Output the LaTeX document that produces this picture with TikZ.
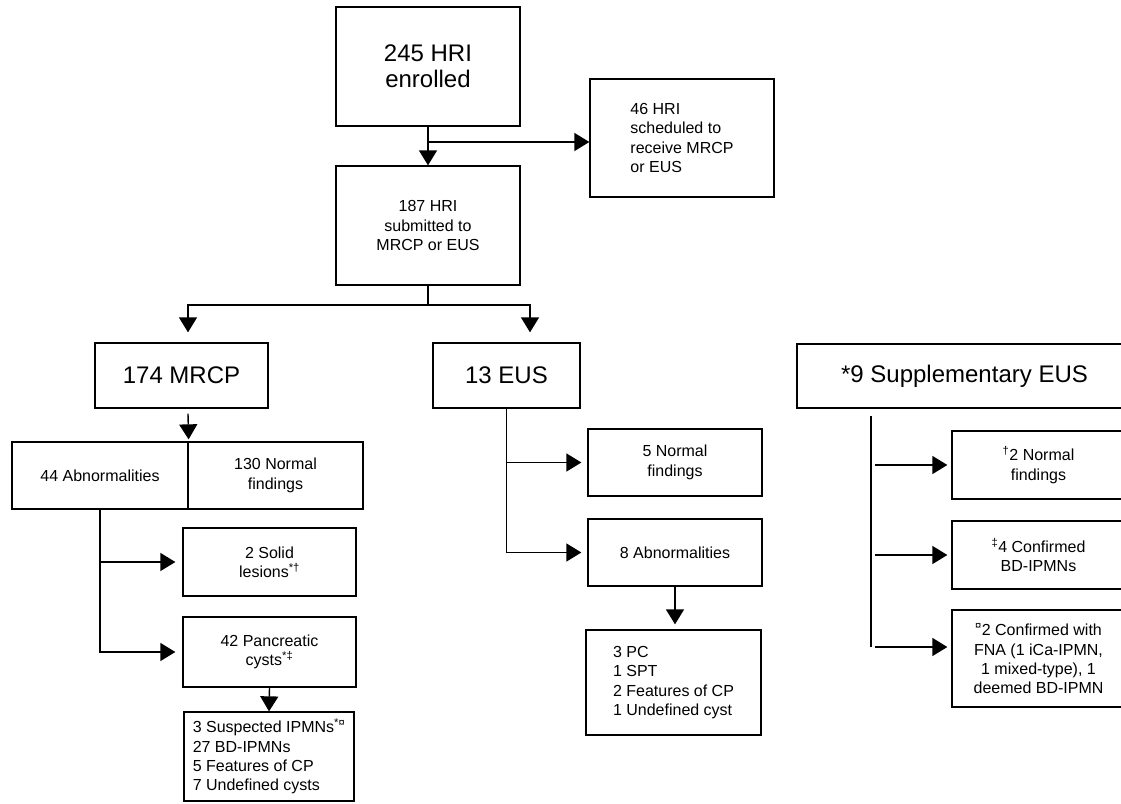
\documentclass[tikz,border=0pt]{standalone}
\usepackage{fontspec}
\setmainfont{Liberation Sans}
\usetikzlibrary{arrows.meta}

\begin{document}
\begin{tikzpicture}[x=1pt, y=-1pt,
    blk/.style={draw, line width=1.3pt, align=center, inner sep=2pt,
                font=\fontsize{16}{19.3}\selectfont},
    blkbig/.style={blk, font=\fontsize{24}{26}\selectfont},
    conn/.style={line width=1.4pt},
    connarr/.style={conn, -{Triangle[length=15pt,width=18pt]}}]

    \clip (0,0) rectangle (1121,803);

    % top of the chart
    \node[blkbig, minimum width=184pt, minimum height=119pt] (enrolled) at (428,66.5) {245 HRI\\enrolled};
    \node[blk, minimum width=184pt, minimum height=119pt] (submitted) at (428,225.5) {187 HRI\\submitted to\\MRCP or EUS};
    \node[blk, align=left, minimum width=184pt, minimum height=118pt] (sched) at (682,138) {46 HRI\\scheduled to\\receive MRCP\\or EUS};

    % MRCP branch
    \node[blkbig, minimum width=173pt, minimum height=65pt] (mrcp) at (181.5,375.5) {174 MRCP};
    \node[blk, minimum width=176pt, minimum height=67pt] (abn) at (100,475.5) {44 Abnormalities};
    \node[blk, minimum width=175pt, minimum height=67pt] (normal) at (275.5,475.5) {130 Normal\\findings};
    \node[blk, minimum width=173pt, minimum height=68pt] (solid) at (269.5,562) {2 Solid\\lesions\textsuperscript{*†}};
    \node[blk, minimum width=173pt, minimum height=70pt] (cysts) at (269.5,652) {42 Pancreatic\\cysts\textsuperscript{*‡}};
    \node[blk, align=left, minimum width=170pt, minimum height=89pt] (mlist) at (269,756.5) {3 Suspected IPMNs\textsuperscript{*¤}\\27 BD-IPMNs\\5 Features of CP\\7 Undefined cysts};

    % EUS branch
    \node[blkbig, minimum width=147pt, minimum height=65pt] (eus) at (506.5,375.5) {13 EUS};
    \node[blk, minimum width=174pt, minimum height=67pt] (enormal) at (675,462.5) {5 Normal\\findings};
    \node[blk, minimum width=174pt, minimum height=67pt] (eabn) at (675,552.5) {8 Abnormalities};
    \node[blk, align=left, minimum width=175pt, minimum height=105pt] (elist) at (673.5,682.5) {3 PC\\1 SPT\\2 Features of CP\\1 Undefined cyst};

    % supplementary EUS
    \node[blkbig, minimum width=335pt, minimum height=64pt] (supp) at (964.5,376) {*9 Supplementary EUS};
    \node[blk, minimum width=173pt, minimum height=68pt] (snormal) at (1038.5,465) {\textsuperscript{†}2 Normal\\findings};
    \node[blk, minimum width=173pt, minimum height=68pt] (sconf) at (1038.5,555) {\textsuperscript{‡}4 Confirmed\\BD-IPMNs};
    \node[blk, minimum width=173pt, minimum height=97pt] (sfna) at (1038.5,658.5) {\textsuperscript{¤}2 Confirmed with\\FNA (1 iCa-IPMN,\\1 mixed-type), 1\\deemed BD-IPMN};

    \coordinate (fork) at (428,142);
    \coordinate (split) at (428,305);
    \coordinate (stop) at (871,416);
    \coordinate (sbot) at (871,647);
    \coordinate (sx) at (875,416);

    \draw[connarr] (enrolled.south) -- (submitted.north);
    \draw[connarr] (fork) -- (fork -| sched.west);
    \draw[conn] (submitted.south) -- (split);
    \draw[connarr, shorten >=10pt] (split) -| ([xshift=6.5pt]mrcp.north);
    \draw[connarr, shorten >=10pt] (split) -| ([xshift=23.5pt]eus.north);

    \draw[connarr, shorten >=2pt] ([xshift=6.5pt,yshift=-5pt]mrcp.south) -- (abn.north east);
    \draw[connarr, shorten >=7pt] (abn.south) |- (solid.west);
    \draw[connarr, shorten >=7pt] (abn.south) |- (cysts.west);
    \draw[connarr] (cysts.south) -- (mlist.north);

    \draw[connarr, shorten >=6pt] (eus.south) |- (enormal.west);
    \draw[connarr, shorten >=6pt] (eus.south) |- (eabn.west);
    \draw[connarr, shorten >=5pt] (eabn.south) -- (eabn.south |- elist.north);

    \draw[conn] (stop) -- (sbot);
    \draw[connarr, shorten >=4pt] (sx |- snormal.west) -- (snormal.west);
    \draw[connarr, shorten >=4pt] (sx |- sconf.west) -- (sconf.west);
    \draw[connarr, shorten >=4pt] (sx |- sbot) -- (sbot -| sfna.west);

\end{tikzpicture}
\end{document}
